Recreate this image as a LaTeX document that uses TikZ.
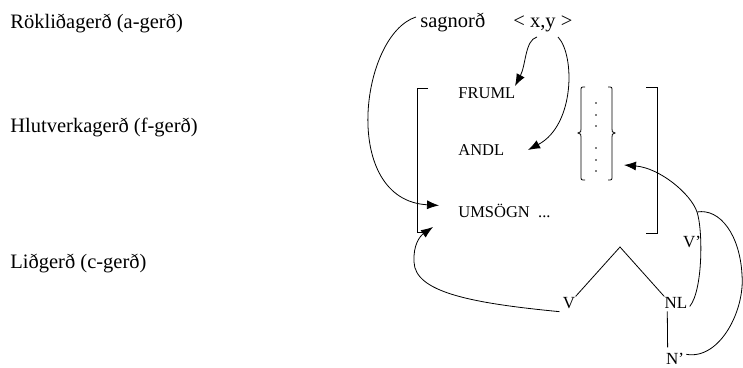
\documentclass[tikz,border=0pt]{standalone}
\usepackage{fontspec}
\setmainfont{Liberation Serif}
\usetikzlibrary{arrows.meta,calc}
\begin{document}
\begin{tikzpicture}[x=1pt,y=-1pt,line width=0.8pt,
  lab/.style={anchor=base west,inner sep=0pt,font=\fontsize{20.5}{24}\selectfont},
  fs/.style={anchor=base west,inner sep=0pt,font=\fontsize{16.5}{20}\selectfont},
  tr/.style={anchor=base,inner sep=0pt,font=\fontsize{17}{20}\selectfont},
  link/.style={-{Latex[length=12pt,width=9pt]}}]
\useasboundingbox (0,0) rectangle (743,367);

% level names
\node[lab] (arow) at (10,28) {Rökliðagerð (a-gerð)};
\node[lab] (frow) at (10,132) {Hlutverkagerð (f-gerð)};
\node[lab] (crow) at (10,268) {Liðgerð (c-gerð)};

% a-structure
\node[lab] (verb) at (420,27) {sagnorð};
\node[lab] (args) at (513,27) {< x,y >};

% f-structure
\node[fs] (subj) at (458,98) {FRUML};
\node[fs] (obj) at (458,155) {ANDL};
\node[fs] (pred) at (458,217) {UMSÖGN\ \ ...};
\draw (428,88) -- (417,88) -- (417,232) -- (427,232);
\draw (646,87) -- (657,87) -- (657,233) -- (646,233);

% inner braces with dots
\draw (585,87) .. controls (581,87) .. (581,91) -- (581,129)
  .. controls (581,132) .. (578,133) .. controls (581,134) .. (581,137)
  -- (581,176) .. controls (581,180) .. (585,180);
\draw (608,87) .. controls (612,87) .. (612,91) -- (612,129)
  .. controls (612,132) .. (615,133) .. controls (612,134) .. (612,137)
  -- (612,176) .. controls (612,180) .. (608,180);
\foreach \yy in {103,115,126,148,160,171}
  \fill (596,\yy) circle (0.9pt);
\coordinate (brace) at (624,165);

% c-structure tree
\coordinate (apex) at (620,247);
\node[tr] (v) at (569,308) {V};
\node[tr] (nl) at (676,308) {NL};
\node[tr] (np) at (675,364) {N’};
\node[tr] (vp) at (692,247) {V’};
\draw (v.north east) -- (apex) -- (nl.north west);
\draw ($(nl.south west)+(3,3)$) -- ($(np.north west)+(2,-5)$);

% mapping arrows
\coordinate (verbout) at ($(verb.west)+(-4,-5)$);
\coordinate (predin) at ($(pred.west)+(-19,-5)$);
\draw[link] (verbout) .. controls (360,35) and (340,200) .. (predin);

\coordinate (argsa) at (537,37);
\coordinate (argsb) at (558,37);
\coordinate (subjin) at (515,86);
\coordinate (objin) at (528,150);
\draw[link] (argsa) .. controls (525,40) and (526,65) .. (subjin);
\draw[link] (argsb) .. controls (575,55) and (575,125) .. (objin);

\coordinate (vout) at ($(v.south west)+(-3,3)$);
\coordinate (predlow) at (433,227);
\draw[link] (vout) .. controls (470,303) and (415,292) .. (414,262)
  .. controls (413,245) and (420,236) .. (predlow);

\coordinate (nlout) at ($(nl.east)+(2,4)$);
\coordinate (vpjoin) at (697,212);
\draw[link] (nlout) .. controls (703,290) and (703,230) .. (vpjoin)
  .. controls (691,194) and (660,168) .. (brace);

\coordinate (npout) at ($(np.east)+(2,-4)$);
\draw (npout) .. controls (720,360) and (745,310) .. (742,275)
  .. controls (740,235) and (720,208) .. (vpjoin);
\end{tikzpicture}
\end{document}
